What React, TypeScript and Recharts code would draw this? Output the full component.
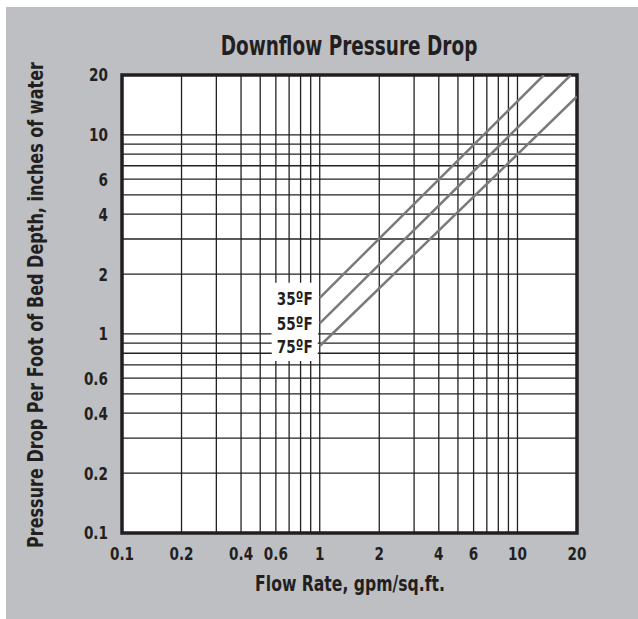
import React from "react";
import { LineChart, Line, XAxis, YAxis, CartesianGrid, ReferenceArea } from "recharts";

// Tick positions (grid) and labelled ticks
const xTicks = [0.1, 0.2, 0.3, 0.4, 0.5, 0.6, 0.7, 0.8, 0.9, 1, 2, 3, 4, 5, 6, 7, 8, 9, 10, 20];
const yTicks = [0.1, 0.2, 0.3, 0.4, 0.5, 0.6, 0.7, 0.8, 0.9, 1, 2, 3, 4, 5, 6, 7, 8, 9, 10, 20];
const xLabels = [0.1, 0.2, 0.4, 0.6, 1, 2, 4, 6, 10, 20];
const yLabels = [0.1, 0.2, 0.4, 0.6, 1, 2, 4, 6, 10, 20];

// Series (flow rate gpm/sq.ft. vs pressure drop in. water / ft)
const flow35 = [1, 13.6];
const drop35 = [1.52, 20];
const flow55 = [1, 18.6];
const drop55 = [1.13, 20];
const flow75 = [1, 20];
const drop75 = [0.87, 15.6];

const seriesNames = ["35ºF", "55ºF", "75ºF"];

const toPoints = (xs: number[], ys: number[]) => xs.map((x, i) => ({ x, y: ys[i] }));
const data35 = toPoints(flow35, drop35);
const data55 = toPoints(flow55, drop55);
const data75 = toPoints(flow75, drop75);

const FONT = '"DejaVu Sans Condensed", "Liberation Sans Narrow", "Arial Narrow", sans-serif';
const LINE_COLOR = "#7a7a7a";
const GRID_COLOR = "#222";
const TEXT_COLOR = "#231f20";
const SQUEEZE = 0.84;

const isLabel = (labels: number[], v: number) => labels.some((l) => Math.abs(l - v) < 1e-9);

const XTick = (props: any) => {
  const { x, y, payload } = props;
  if (!isLabel(xLabels, payload.value)) return null;
  return (
    <text
      transform={`translate(${x},${y}) scale(${SQUEEZE},1)`}
      x={0}
      y={0}
      dy="0.71em"
      textAnchor="middle"
      fontFamily={FONT}
      fontWeight="bold"
      fontSize={18}
      fill={TEXT_COLOR}
    >
      {String(payload.value)}
    </text>
  );
};

const YTick = (props: any) => {
  const { x, y, payload } = props;
  if (!isLabel(yLabels, payload.value)) return null;
  return (
    <text
      transform={`translate(${x},${y}) scale(${SQUEEZE},1)`}
      x={0}
      y={0}
      dy="0.36em"
      textAnchor="end"
      fontFamily={FONT}
      fontWeight="bold"
      fontSize={18}
      fill={TEXT_COLOR}
    >
      {String(payload.value)}
    </text>
  );
};

const makeLabel = (name: string) => (props: any) => {
  const { x, y, index } = props;
  if (index !== 0 || x == null || y == null) return null;
  return (
    <g>
      <rect x={x - 48} y={y - 15} width={46} height={30} fill="#fff" />
      <text
        transform={`translate(${x - 7},${y + 1}) scale(${SQUEEZE},1)`}
        x={0}
        y={0}
        textAnchor="end"
        dominantBaseline="central"
        fontFamily={FONT}
        fontWeight="bold"
        fontSize={18}
        fill={TEXT_COLOR}
      >
        {name}
      </text>
    </g>
  );
};

export default function App() {
  return (
    <div style={{ position: "relative", width: 638, height: 619, background: "#fff", fontFamily: FONT }}>
      <style>{`body{margin:0}`}</style>
      <div
        style={{
          position: "absolute",
          left: 6,
          top: 7,
          right: 0,
          bottom: 0,
          background: "#bebfc3",
        }}
      />
      <div
        style={{
          position: "absolute",
          left: 349,
          top: 46,
          width: 0,
          height: 0,
        }}
      >
        <div
          style={{
            position: "absolute",
            whiteSpace: "nowrap",
            transform: "translate(-50%, -50%) scaleX(0.76)",
            fontSize: 27,
            fontWeight: "bold",
            color: TEXT_COLOR,
            lineHeight: "32px",
          }}
        >
          Downflow Pressure Drop
        </div>
      </div>
      <div
        style={{
          position: "absolute",
          left: 350,
          top: 584,
          width: 0,
          height: 0,
        }}
      >
        <div
          style={{
            position: "absolute",
            whiteSpace: "nowrap",
            transform: "translate(-50%, -50%) scaleX(0.79)",
            fontSize: 22,
            fontWeight: "bold",
            color: TEXT_COLOR,
            lineHeight: "26px",
          }}
        >
          Flow Rate, gpm/sq.ft.
        </div>
      </div>
      <div
        style={{
          position: "absolute",
          left: 36,
          top: 305,
          width: 0,
          height: 0,
        }}
      >
        <div
          style={{
            position: "absolute",
            whiteSpace: "nowrap",
            transform: "translate(-50%, -50%) rotate(-90deg) scaleX(0.81)",
            fontSize: 22,
            fontWeight: "bold",
            color: TEXT_COLOR,
            lineHeight: "26px",
          }}
        >
          Pressure Drop Per Foot of Bed Depth, inches of water
        </div>
      </div>
      <div style={{ position: "absolute", left: 0, top: 0 }}>
        <LineChart width={638} height={619} margin={{ top: 75, right: 61, bottom: 56, left: 82 }}>
          <CartesianGrid fill="#fff" stroke={GRID_COLOR} strokeWidth={1.3} />
          <XAxis
            dataKey="x"
            type="number"
            scale="log"
            domain={[0.1, 20]}
            ticks={xTicks}
            allowDataOverflow
            axisLine={false}
            tickLine={false}
            tickSize={0}
            tickMargin={14}
            height={30}
            interval={0}
            tick={<XTick />}
          />
          <YAxis
            dataKey="y"
            type="number"
            scale="log"
            domain={[0.1, 20]}
            ticks={yTicks}
            allowDataOverflow
            axisLine={false}
            tickLine={false}
            tickSize={0}
            tickMargin={14}
            width={40}
            interval={0}
            tick={<YTick />}
          />
          <Line
            data={data35}
            dataKey="y"
            type="linear"
            stroke={LINE_COLOR}
            strokeWidth={2.5}
            dot={false}
            isAnimationActive={false}
            label={makeLabel(seriesNames[0])}
          />
          <Line
            data={data55}
            dataKey="y"
            type="linear"
            stroke={LINE_COLOR}
            strokeWidth={2.5}
            dot={false}
            isAnimationActive={false}
            label={makeLabel(seriesNames[1])}
          />
          <Line
            data={data75}
            dataKey="y"
            type="linear"
            stroke={LINE_COLOR}
            strokeWidth={2.5}
            dot={false}
            isAnimationActive={false}
            label={makeLabel(seriesNames[2])}
          />
          <ReferenceArea
            x1={0.1}
            x2={20}
            y1={0.1}
            y2={20}
            fill="none"
            fillOpacity={0}
            stroke={TEXT_COLOR}
            strokeWidth={3.5}
            ifOverflow="visible"
          />
        </LineChart>
      </div>
    </div>
  );
}
